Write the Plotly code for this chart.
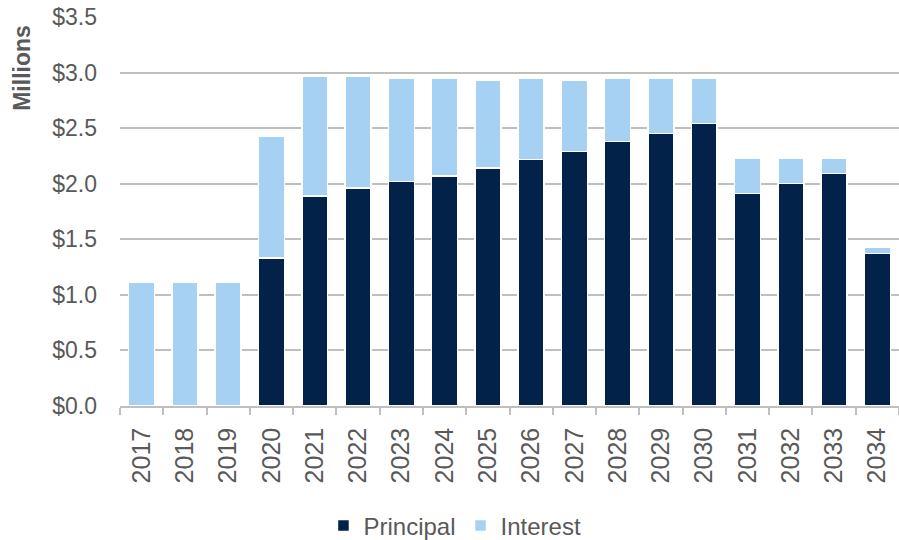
import plotly.graph_objects as go

years = ["2017", "2018", "2019", "2020", "2021", "2022", "2023", "2024", "2025",
         "2026", "2027", "2028", "2029", "2030", "2031", "2032", "2033", "2034"]
principal = [0.0, 0.0, 0.0, 1.33, 1.89, 1.96, 2.02, 2.07, 2.14,
             2.22, 2.29, 2.38, 2.45, 2.54, 1.91, 2.00, 2.09, 1.37]
interest = [1.11, 1.11, 1.11, 1.10, 1.08, 1.01, 0.93, 0.88, 0.79,
            0.73, 0.64, 0.57, 0.50, 0.41, 0.32, 0.23, 0.14, 0.06]
y_ticks = [0, 0.5, 1.0, 1.5, 2.0, 2.5, 3.0, 3.5]
y_ticktext = [f"${v:.1f}" for v in y_ticks]

FONT = "Liberation Sans"
GRAY = "#595959"

fig = go.Figure()
fig.add_trace(go.Bar(x=years, y=principal, name="Principal",
                     marker=dict(color="#03224A", line=dict(color="white", width=1.5))))
fig.add_trace(go.Bar(x=years, y=interest, name="Interest",
                     marker=dict(color="#A7D1F3", line=dict(color="white", width=1.5))))

fig.update_layout(
    barmode="stack",
    bargap=0.4,
    width=899, height=540,
    margin=dict(l=120, r=0, t=17, b=134, autoexpand=False),
    plot_bgcolor="white", paper_bgcolor="white",
    font=dict(family=FONT, color=GRAY),
    legend=dict(orientation="h", x=0.43, xanchor="center", y=-0.308, yanchor="middle",
                font=dict(size=24, color=GRAY, family=FONT), traceorder="normal",
                itemwidth=30),
    annotations=[dict(text="<b>Millions</b>", textangle=-90, xref="paper", yref="paper",
                      x=-0.126, y=0.869, xanchor="center", yanchor="middle",
                      showarrow=False, font=dict(size=23, color=GRAY, family=FONT))],
)
fig.update_yaxes(range=[0, 3.5], tickvals=y_ticks, ticktext=y_ticktext,
                 showgrid=True, gridcolor="#BFBFBF", gridwidth=1.5,
                 zeroline=False, showline=False, ticks="", automargin=False,
                 ticklabelstandoff=22,
                 tickfont=dict(size=23, color=GRAY, family=FONT))
fig.update_xaxes(type="category", tickangle=-90, showline=True, linecolor="#BFBFBF", linewidth=1.5,
                 ticks="outside", tickson="boundaries", ticklen=7, tickcolor="#BFBFBF", tickwidth=1.5,
                 ticklabelstandoff=10, automargin=False,
                 tickfont=dict(size=25, color=GRAY, family=FONT))

fig.write_html("out.html")
